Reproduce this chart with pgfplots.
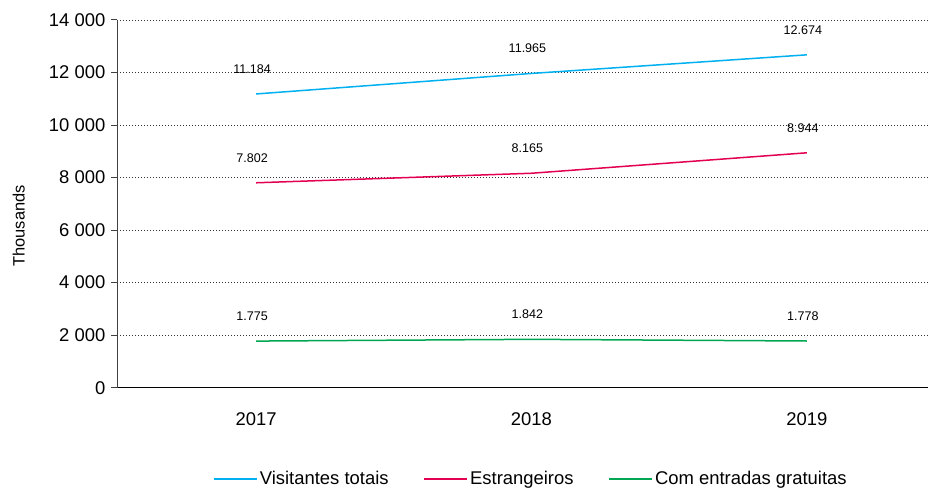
\documentclass[border=0pt]{standalone}
\usepackage{pgfplots}
\pgfplotsset{compat=1.18}
\usepackage{fontspec}
\setmainfont{Liberation Sans}
\definecolor{cBlue}{RGB}{0,176,240}
\definecolor{cRed}{RGB}{228,0,80}
\definecolor{cGreen}{RGB}{0,166,81}
\begin{document}
\begin{tikzpicture}
\path (0bp,0bp) rectangle (929bp,488bp);
\begin{axis}[
  at={(117bp,100.3bp)}, anchor=south west,
  scale only axis, width=811bp, height=367.7bp,
  xmin=-0.505, xmax=2.44,
  ymin=0, ymax=14000,
  ytick={0,2000,4000,6000,8000,10000,12000,14000},
  scaled y ticks=false,
  xtick={0,1,2}, xticklabels={2017,2018,2019},
  axis x line*=bottom, axis y line*=left,
  x axis line style={black, line width=1bp, -},
  y axis line style={black!75, line width=1bp, -},
  xtick style={draw=none},
  ytick style={black!75, line width=1bp},
  tick align=outside, major tick length=5.5bp,
  ymajorgrids, grid style={black!80, line width=0.8bp, dash pattern=on 1bp off 2bp},
  /pgf/number format/assume math mode=true,
  /pgf/number format/1000 sep={\ },
  yticklabel style={font=\fontsize{18.5}{20}\selectfont, inner sep=0pt, xshift=-6bp},
  xticklabel style={font=\fontsize{18.5}{20}\selectfont, inner sep=0pt, yshift=-19bp},
  ylabel={Thousands},
  ylabel style={font=\fontsize{16.5}{18}\selectfont, at={(rel axis cs:-0.121,0.44)}, anchor=center},
  point meta=explicit symbolic,
  nodes near coords,
  every node near coord/.append style={font=\fontsize{12.6}{14}\selectfont, anchor=center, yshift=25bp, xshift=-4bp, text=black},
  legend style={at={(rel axis cs:0.5105,-0.248)}, anchor=center, draw=none, fill=none,
    font=\fontsize{18.5}{20}\selectfont, legend columns=-1, inner sep=0pt,
    /tikz/every even column/.append style={column sep=33bp},
    cells={anchor=west, inner sep=2bp}},
  legend image code/.code={\draw[#1] (0bp,0bp) -- (43bp,0bp);},
  clip=false,
]
\addplot[cBlue, line width=1.5bp] coordinates {(0,11184) [11.184] (1,11965) [11.965] (2,12674) [12.674]};
\addlegendentry{Visitantes totais}
\addplot[cRed, line width=1.5bp] coordinates {(0,7802) [7.802] (1,8165) [8.165] (2,8944) [8.944]};
\addlegendentry{Estrangeiros}
\addplot[cGreen, line width=1.5bp] coordinates {(0,1775) [1.775] (1,1842) [1.842] (2,1778) [1.778]};
\addlegendentry{Com entradas gratuitas}
\end{axis}
\end{tikzpicture}
\end{document}
